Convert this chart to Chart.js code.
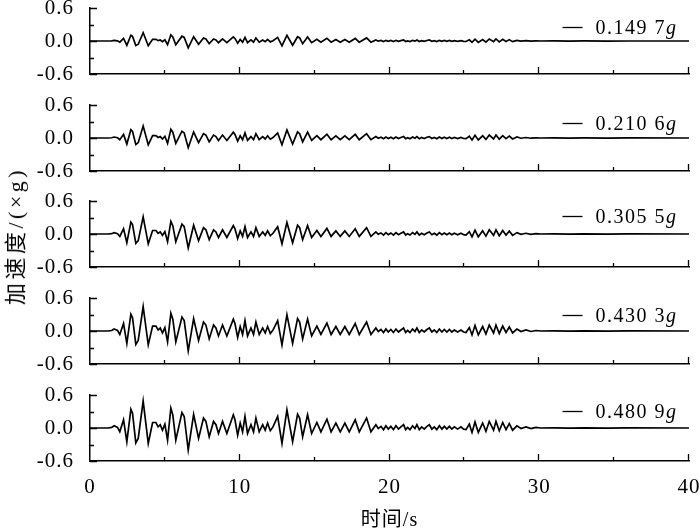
<!DOCTYPE html>
<html><head><meta charset="utf-8">
<script src="https://cdn.jsdelivr.net/npm/chart.js@4.4.1/dist/chart.umd.min.js"></script>
<style>
html,body{margin:0;padding:0;background:#fff;}
#wrap{position:relative;width:700px;height:531px;overflow:hidden;background:#fff;}
.pc{position:absolute;left:0;}
#ytitle{position:absolute;left:13px;top:236px;transform:translate(-50%,-50%) rotate(-90deg);font-size:22px;letter-spacing:3.5px;font-family:'Liberation Serif','Noto Sans CJK SC',serif;white-space:nowrap;color:#000;}
</style></head><body>
<div id="wrap">
<canvas id="c0" class="pc" width="700" height="82"></canvas>
<canvas id="c1" class="pc" width="700" height="82"></canvas>
<canvas id="c2" class="pc" width="700" height="82"></canvas>
<canvas id="c3" class="pc" width="700" height="82"></canvas>
<canvas id="c4" class="pc" width="700" height="146"></canvas>
<div id="ytitle">加速度/(×g)</div>
</div>
<script>
// time (s) of the turning points read from the records
const time = [
 0,1.2,1.45,1.61,1.84,1.99,2.24,2.46,2.73,2.84,
 3.06,3.22,3.55,3.89,4.18,4.40,4.55,4.69,4.84,5.00,
 5.18,5.40,5.53,5.73,6.14,6.29,6.56,6.92,7.25,7.58,
 7.74,7.96,8.25,8.41,8.58,8.85,9.14,9.57,9.68,9.86,
 10.03,10.19,10.35,10.52,10.75,10.92,11.08,11.30,11.53,11.70,
 11.86,12.04,12.22,12.53,12.82,13.15,13.53,13.86,14.00,14.20,
 14.53,14.80,15.15,15.42,15.82,16.10,16.42,16.71,17.02,17.31,
 17.71,17.98,18.47,18.76,19.09,19.25,19.43,19.60,19.76,19.92,
 20.09,20.26,20.43,20.60,20.76,20.94,21.08,21.21,21.37,21.54,
 21.70,21.83,21.99,22.15,22.32,22.50,22.66,22.83,22.99,23.16,
 23.33,23.50,23.66,23.83,24.00,24.16,24.33,24.55,24.77,24.95,
 25.11,25.33,25.51,25.71,25.93,26.22,26.44,
 26.66,26.95,27.11,27.33,27.56,27.78,28.00,28.22,28.51,28.78,
 29.11,29.45,29.78,30.10,31.0,32.0,33.0,34.5,36.0,40.0];

const acc1497 = [
 0,0,0.003,0.012,0.003,-0.022,0.047,-0.078,0.105,0.084,
 -0.084,-0.059,0.152,-0.087,0.031,0.031,0.006,0.019,-0.012,0.022,
 -0.068,0.112,0.074,-0.068,0.087,0.065,-0.124,0.078,-0.059,0.056,
 0.037,-0.05,0.037,0.019,-0.031,0.037,-0.031,0.074,0.047,-0.04,
 0.028,-0.022,0.065,-0.031,0.019,-0.022,0.056,-0.022,0.019,-0.012,
 0.028,-0.016,0.006,0.065,-0.087,0.102,-0.078,0.078,0.056,-0.05,
 0.074,-0.031,0.031,-0.022,0.05,-0.022,0.028,-0.022,0.028,-0.022,
 0.047,-0.022,0.056,-0.022,0.019,-0.003,0.009,-0.009,0.012,-0.006,
 0.009,-0.009,0.012,-0.006,0.006,0.019,-0.009,0.003,-0.009,0.012,
 -0.003,0.019,-0.009,0.006,-0.006,0.009,0.019,-0.006,0.006,-0.009,
 0.012,-0.006,0.009,-0.006,0.009,-0.006,0.006,-0.006,0.006,-0.006,
 -0.009,0.022,-0.025,0.034,-0.025,0.028,-0.019,
 0.037,-0.012,0.037,-0.016,0.031,-0.009,0.025,-0.012,0.012,-0.003,
 0.006,-0.003,0.003,0,0.001,-0.001,0.001,-0.001,0,0];

const acc2106 = [
 0,0,0.004,0.018,0.004,-0.031,0.066,-0.11,0.15,0.119,
 -0.119,-0.084,0.216,-0.123,0.044,0.044,0.009,0.026,-0.018,0.031,
 -0.097,0.158,0.106,-0.097,0.123,0.092,-0.176,0.11,-0.084,0.079,
 0.053,-0.07,0.053,0.026,-0.044,0.053,-0.044,0.106,0.066,-0.057,
 0.04,-0.031,0.092,-0.044,0.026,-0.031,0.079,-0.031,0.026,-0.018,
 0.04,-0.022,0.009,0.092,-0.123,0.145,-0.11,0.11,0.079,-0.07,
 0.106,-0.044,0.044,-0.031,0.07,-0.031,0.04,-0.031,0.04,-0.031,
 0.066,-0.031,0.079,-0.031,0.026,-0.004,0.013,-0.013,0.018,-0.009,
 0.013,-0.013,0.018,-0.009,0.009,0.026,-0.013,0.004,-0.013,0.018,
 -0.004,0.026,-0.013,0.009,-0.009,0.013,0.026,-0.009,0.009,-0.013,
 0.018,-0.009,0.013,-0.009,0.013,-0.009,0.009,-0.009,0.009,-0.009,
 -0.013,0.031,-0.035,0.048,-0.035,0.04,-0.026,
 0.053,-0.018,0.053,-0.022,0.044,-0.013,0.035,-0.018,0.018,-0.004,
 0.009,-0.004,0.004,0,0.002,-0.002,0.001,-0.001,0.001,0];

const acc3055 = [
 0,0,0.006,0.025,0.006,-0.044,0.095,-0.159,0.216,0.171,
 -0.171,-0.121,0.311,-0.178,0.064,0.064,0.013,0.038,-0.025,0.044,
 -0.14,0.229,0.152,-0.14,0.178,0.133,-0.254,0.159,-0.121,0.114,
 0.076,-0.102,0.076,0.038,-0.064,0.076,-0.064,0.152,0.095,-0.083,
 0.057,-0.044,0.133,-0.064,0.038,-0.044,0.114,-0.044,0.038,-0.025,
 0.057,-0.032,0.013,0.133,-0.178,0.21,-0.159,0.159,0.114,-0.102,
 0.152,-0.064,0.064,-0.044,0.102,-0.044,0.057,-0.044,0.057,-0.044,
 0.095,-0.044,0.114,-0.044,0.038,-0.006,0.019,-0.019,0.025,-0.013,
 0.019,-0.019,0.025,-0.013,0.013,0.038,-0.019,0.006,-0.019,0.025,
 -0.006,0.038,-0.019,0.013,-0.013,0.019,0.038,-0.013,0.013,-0.019,
 0.025,-0.013,0.019,-0.013,0.019,-0.013,0.013,-0.013,0.013,-0.013,
 -0.019,0.044,-0.051,0.07,-0.051,0.057,-0.038,
 0.076,-0.025,0.076,-0.032,0.064,-0.019,0.051,-0.025,0.025,-0.006,
 0.013,-0.006,0.006,0,0.003,-0.003,0.002,-0.002,0.001,0];

const acc4303 = [
 0,0,0.009,0.036,0.009,-0.063,0.135,-0.225,0.306,0.243,
 -0.243,-0.171,0.441,-0.252,0.09,0.09,0.018,0.054,-0.036,0.063,
 -0.198,0.324,0.216,-0.198,0.252,0.189,-0.36,0.225,-0.171,0.162,
 0.108,-0.144,0.108,0.054,-0.09,0.108,-0.09,0.216,0.135,-0.117,
 0.081,-0.063,0.189,-0.09,0.054,-0.063,0.162,-0.063,0.054,-0.036,
 0.081,-0.045,0.018,0.189,-0.252,0.297,-0.225,0.225,0.162,-0.144,
 0.216,-0.09,0.09,-0.063,0.144,-0.063,0.081,-0.063,0.081,-0.063,
 0.135,-0.063,0.162,-0.063,0.054,-0.009,0.027,-0.027,0.036,-0.018,
 0.027,-0.027,0.036,-0.018,0.018,0.054,-0.027,0.009,-0.027,0.036,
 -0.009,0.054,-0.027,0.018,-0.018,0.027,0.054,-0.018,0.018,-0.027,
 0.036,-0.018,0.027,-0.018,0.027,-0.018,0.018,-0.018,0.018,-0.018,
 -0.027,0.063,-0.072,0.099,-0.072,0.081,-0.054,
 0.108,-0.036,0.108,-0.045,0.09,-0.027,0.072,-0.036,0.036,-0.009,
 0.018,-0.009,0.009,0,0.004,-0.003,0.003,-0.003,0.002,0];

const acc4809 = [
 0,0,0.01,0.04,0.01,-0.07,0.15,-0.25,0.34,0.27,
 -0.27,-0.19,0.49,-0.28,0.10,0.10,0.02,0.06,-0.04,0.07,
 -0.22,0.36,0.24,-0.22,0.28,0.21,-0.40,0.25,-0.19,0.18,
 0.12,-0.16,0.12,0.06,-0.10,0.12,-0.10,0.24,0.15,-0.13,
 0.09,-0.07,0.21,-0.10,0.06,-0.07,0.18,-0.07,0.06,-0.04,
 0.09,-0.05,0.02,0.21,-0.28,0.33,-0.25,0.25,0.18,-0.16,
 0.24,-0.10,0.10,-0.07,0.16,-0.07,0.09,-0.07,0.09,-0.07,
 0.15,-0.07,0.18,-0.07,0.06,-0.01,0.03,-0.03,0.04,-0.02,
 0.03,-0.03,0.04,-0.02,0.02,0.06,-0.03,0.01,-0.03,0.04,
 -0.01,0.06,-0.03,0.02,-0.02,0.03,0.06,-0.02,0.02,-0.03,
 0.04,-0.02,0.03,-0.02,0.03,-0.02,0.02,-0.02,0.02,-0.02,
 -0.03,0.07,-0.08,0.11,-0.08,0.09,-0.06,
 0.12,-0.04,0.12,-0.05,0.10,-0.03,0.08,-0.04,0.04,-0.01,
 0.02,-0.01,0.01,0.00,0.004,-0.004,0.003,-0.003,0.002,0];

const seriesLabels = ['0.149 7', '0.210 6', '0.305 5', '0.430 3', '0.480 9'];
const xTickLabels = [0, 10, 20, 30, 40];
const xMinorTicks = [5, 15, 25, 35];
const yTickLabels = [-0.6, 0.0, 0.6];
const yMinorTicks = [-0.3, 0.3];

const allSeries = [acc1497, acc2106, acc3055, acc4303, acc4809];
const panelTops = [8, 105, 201, 298, 395];
const legendRise = [7, 8, 11, 9, 10];
const SERIF = "'Liberation Serif', 'Times New Roman', serif";

const spacingPlugin = {
  id: 'spacing',
  beforeDraw(chart) { if ('letterSpacing' in chart.ctx) chart.ctx.letterSpacing = '1px'; },
  beforeDatasetsDraw(chart) { if ('letterSpacing' in chart.ctx) chart.ctx.letterSpacing = '0px'; }
};

const decoPlugin = {
  id: 'deco',
  afterDatasetsDraw(chart, args, opts) {
    const {ctx, chartArea: {left, right, top, bottom}, scales: {x, y}} = chart;
    ctx.save();
    ctx.strokeStyle = '#000';
    ctx.lineWidth = 1.3;
    ctx.beginPath();
    xTickLabels.forEach(v => {
      if (v === 0) return;
      const px = Math.round(x.getPixelForValue(v)) - 0.5;
      ctx.moveTo(px, bottom); ctx.lineTo(px, bottom - 7);
    });
    xMinorTicks.forEach(v => {
      const px = Math.round(x.getPixelForValue(v)) - 0.5;
      ctx.moveTo(px, bottom); ctx.lineTo(px, bottom - 4);
    });
    yTickLabels.forEach(v => {
      const py = Math.round(y.getPixelForValue(v)) + 0.5;
      ctx.moveTo(left, py); ctx.lineTo(left + 7, py);
    });
    yMinorTicks.forEach(v => {
      const py = Math.round(y.getPixelForValue(v)) + 0.5;
      ctx.moveTo(left, py); ctx.lineTo(left + 4, py);
    });
    ctx.stroke();

    // legend entry
    const base = y.getPixelForValue(0) - opts.rise;
    const xr = right - 13;
    ctx.fillStyle = '#000';
    ctx.textBaseline = 'alphabetic';
    ctx.textAlign = 'left';
    ctx.font = 'italic 20px ' + SERIF;
    const gw = ctx.measureText('g').width;
    ctx.fillText('g', xr - gw, base);
    ctx.font = '20px ' + SERIF;
    if ('letterSpacing' in ctx) ctx.letterSpacing = '1.5px';
    const tw = ctx.measureText(opts.label).width;
    const tx = xr - gw - tw;
    ctx.fillText(opts.label, tx, base);
    if ('letterSpacing' in ctx) ctx.letterSpacing = '0px';
    ctx.beginPath();
    ctx.lineWidth = 1.3;
    ctx.moveTo(tx - 33, Math.round(base - 7) + 0.5);
    ctx.lineTo(tx - 13, Math.round(base - 7) + 0.5);
    ctx.stroke();
    ctx.restore();
  }
};

allSeries.forEach((vals, i) => {
  const isBottom = i === 4;
  const cv = document.getElementById('c' + i);
  cv.style.top = (panelTops[i] - 10) + 'px';
  new Chart(cv, {
    type: 'line',
    data: {
      datasets: [{
        label: seriesLabels[i] + 'g',
        data: time.map((t, k) => ({x: t, y: vals[k]})),
        borderColor: '#000',
        borderWidth: 1.7,
        pointRadius: 0,
        tension: 0,
        fill: false
      }]
    },
    options: {
      responsive: false,
      animation: false,
      devicePixelRatio: 1,
      layout: {padding: {top: 10, right: 11, bottom: 0, left: 0}, autoPadding: false},
      plugins: {
        legend: {display: false},
        tooltip: {enabled: false},
        deco: {label: seriesLabels[i], rise: legendRise[i]}
      },
      scales: {
        x: {
          type: 'linear', min: 0, max: 40,
          afterBuildTicks: s => { s.ticks = xTickLabels.map(v => ({value: v})); },
          afterFit: s => { s.height = isBottom ? 70 : 6; s.paddingLeft = 0; s.paddingRight = 0; },
          ticks: {display: isBottom, color: '#000', padding: 6, maxRotation: 0, autoSkip: false,
                  font: {family: SERIF, size: 21}},
          grid: {display: false},
          border: {display: true, color: '#000', width: 1.5},
          title: {display: isBottom, text: '时间/s', color: '#000',
                  font: {family: "'Liberation Serif', 'Noto Sans CJK SC', serif", size: 20, lineHeight: 1},
                  padding: {top: 0, bottom: 0}}
        },
        y: {
          min: -0.6, max: 0.6,
          afterBuildTicks: s => { s.ticks = yTickLabels.map(v => ({value: v})); },
          afterFit: s => { s.width = 90; s.paddingTop = 0; s.paddingBottom = 0; },
          ticks: {color: '#000', padding: 8, autoSkip: false, font: {family: SERIF, size: 21},
                  callback: v => (Math.abs(v) < 1e-9 ? 0 : v).toFixed(1)},
          grid: {display: false},
          border: {display: true, color: '#000', width: 1.5}
        }
      }
    },
    plugins: [spacingPlugin, decoPlugin]
  });
});
</script>
</body></html>
